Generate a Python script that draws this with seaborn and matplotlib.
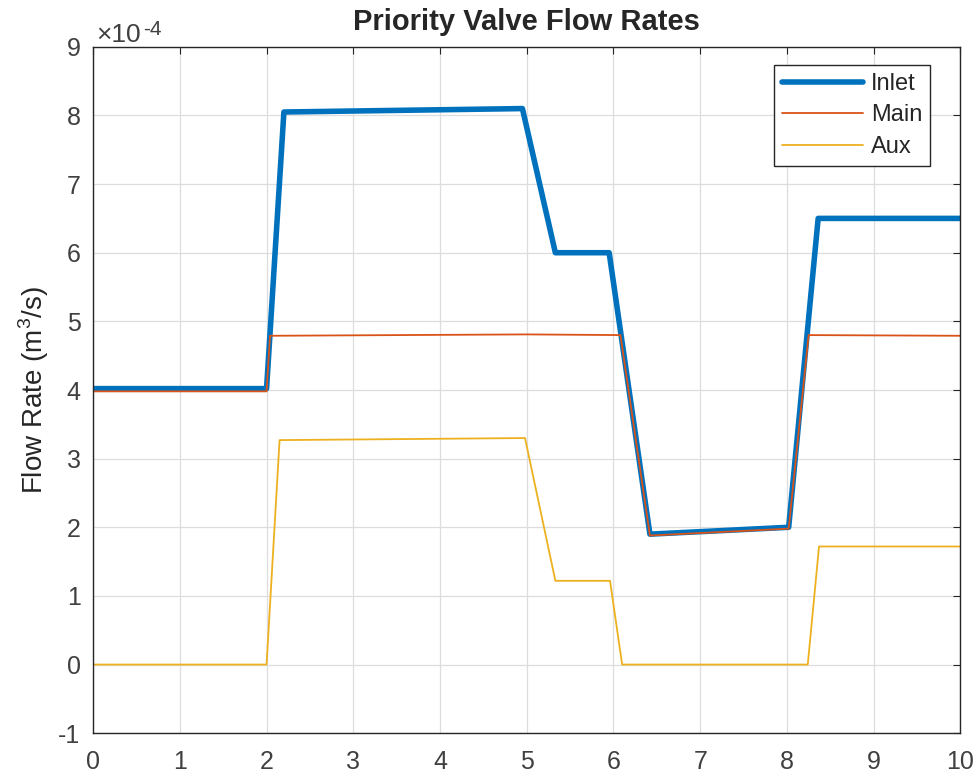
import matplotlib
matplotlib.use("Agg")
import matplotlib.pyplot as plt
import matplotlib.ticker as mticker
import pandas as pd
import seaborn as sns

# Flow rates, in units of 1e-4 m^3/s
inlet_t = [0.0, 2.0, 2.2, 4.95, 5.33, 5.95, 6.42, 8.02, 8.36, 10.0]
inlet_q = [4.02, 4.02, 8.05, 8.10, 6.00, 6.00, 1.90, 2.00, 6.50, 6.50]

main_t = [0.0, 2.0, 2.04, 5.0, 6.08, 6.42, 8.02, 8.25, 10.0]
main_q = [3.98, 3.98, 4.79, 4.81, 4.80, 1.88, 1.98, 4.80, 4.79]

aux_t = [0.0, 2.0, 2.15, 4.98, 5.33, 5.96, 6.1, 8.24, 8.37, 10.0]
aux_q = [0.0, 0.0, 3.27, 3.30, 1.22, 1.22, 0.0, 0.0, 1.72, 1.72]

SCALE = 1e-4
BLUE, ORANGE, YELLOW = "#0072BD", "#D95319", "#EDB120"
TXT = "#404040"

sns.set_style("white")
plt.rcParams["font.family"] = ["Liberation Sans", "DejaVu Sans"]
plt.rcParams["mathtext.fontset"] = "custom"
plt.rcParams["mathtext.rm"] = "Liberation Sans"
plt.rcParams["axes.unicode_minus"] = False

fig = plt.figure(figsize=(9.8, 7.8), dpi=100)
ax = fig.add_axes([0.095, 0.06, 0.885, 0.88])

for t, q, name, color, lw in [
    (inlet_t, inlet_q, "Inlet", BLUE, 4.0),
    (main_t, main_q, "Main", ORANGE, 1.3),
    (aux_t, aux_q, "Aux", YELLOW, 1.3),
]:
    df = pd.DataFrame({"t": t, "q": [v * SCALE for v in q]})
    sns.lineplot(data=df, x="t", y="q", ax=ax, color=color, lw=lw,
                 label=name, estimator=None, sort=False)

ax.set_xlim(0, 10)
ax.set_ylim(-1e-4, 9e-4)
ax.set_xticks(range(0, 11))
ax.set_yticks([i * SCALE for i in range(-1, 10)])
ax.yaxis.set_major_formatter(mticker.FuncFormatter(lambda v, _: f"{round(v / SCALE):d}"))
# MATLAB-style exponent label above the y axis
ax.text(0.004, 1.007, "\u00d710", transform=ax.transAxes, fontsize=19,
        color=TXT, ha="left", va="baseline")
ax.text(0.058, 1.017, "-4", transform=ax.transAxes, fontsize=15,
        color=TXT, ha="left", va="baseline")

ax.grid(True, color="#dddddd", lw=0.9)
for s in ax.spines.values():
    s.set_color("#262626")
    s.set_linewidth(1.0)
ax.tick_params(direction="in", length=5, top=True, right=True,
               labelsize=18, colors="#262626", labelcolor=TXT)
ax.tick_params(axis="x", pad=12)
ax.tick_params(axis="y", pad=9)

ax.set_xlabel("")
ax.set_ylabel("Flow Rate (m$^3$/s)", fontsize=20, color="#262626", labelpad=5)
ax.set_title("Priority Valve Flow Rates", fontsize=21, fontweight="bold", pad=12)

leg = ax.legend(loc="upper right", bbox_to_anchor=(0.9655, 0.974),
                borderaxespad=0, fontsize=17,
                frameon=True, fancybox=False, framealpha=1,
                edgecolor="#262626", handlelength=3.4, handletextpad=0.35,
                borderpad=0.35, labelspacing=0.4)
leg.get_frame().set_linewidth(1.0)

fig.savefig("out.png", dpi=100)
